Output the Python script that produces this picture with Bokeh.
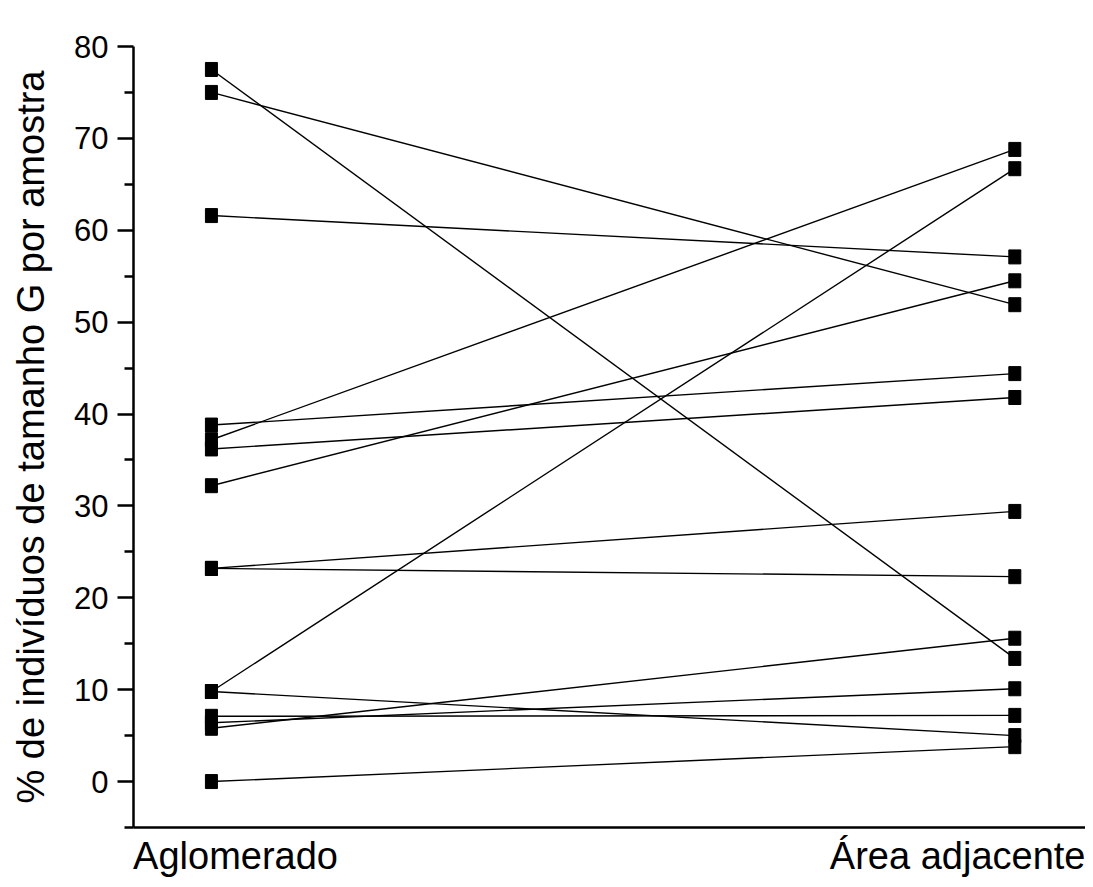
from bokeh.plotting import figure
from bokeh.models import ColumnDataSource, Range1d, FixedTicker
from bokeh.embed import file_html
from bokeh.resources import INLINE

# ---- data ----
categories = ["Aglomerado", "Área adjacente"]
aglomerado = [77.5, 75.0, 61.6, 38.8, 37.2, 36.2, 32.2, 23.2, 23.2, 9.8, 9.8, 7.1, 6.4, 5.8, 0.0]
area_adjacente = [13.4, 51.9, 57.1, 44.4, 68.8, 41.8, 54.5, 29.4, 22.3, 66.7, 5.0, 7.2, 10.1, 15.6, 3.8]
y_ticks = [0, 10, 20, 30, 40, 50, 60, 70, 80]
y_label = "% de indivíduos de tamanho G por amostra"

FONT = "Liberation Sans"

n = len(aglomerado)
seg_src = ColumnDataSource(dict(
    x0=[0] * n, y0=aglomerado,
    x1=[1] * n, y1=area_adjacente,
))
pts_src = ColumnDataSource(dict(
    x=[0] * n + [1] * n,
    y=aglomerado + area_adjacente,
))

p = figure(width=1085, height=879, output_backend="svg", toolbar_location=None,
           x_range=Range1d(-0.097, 1.088), y_range=Range1d(-5, 80),
           min_border_left=133, min_border_right=0, min_border_top=46, min_border_bottom=52)
p.outline_line_color = None
p.grid.visible = False
p.background_fill_color = "white"
p.border_fill_color = "white"

p.segment(x0="x0", y0="y0", x1="x1", y1="y1", source=seg_src,
          line_color="black", line_width=1.4)
p.rect(x="x", y="y", width=12, height=14, width_units="screen", height_units="screen",
       source=pts_src, fill_color="black", line_color="black")

# y axis
ya = p.yaxis[0]
ya.ticker = FixedTicker(ticks=y_ticks, minor_ticks=[t + 5 for t in y_ticks[:-1]] + [-5])
ya.axis_label = y_label
ya.axis_label_text_font = FONT
ya.axis_label_text_font_size = "38px"
ya.axis_label_text_font_style = "normal"
ya.axis_label_text_color = "black"
ya.axis_label_standoff = 19
ya.major_label_text_font = FONT
ya.major_label_text_font_size = "31px"
ya.major_label_text_color = "black"
ya.major_label_standoff = 9
ya.axis_line_width = 2.5
ya.major_tick_line_width = 2.5
ya.minor_tick_line_width = 2.5
ya.major_tick_out = 16
ya.major_tick_in = 0
ya.minor_tick_out = 9
ya.minor_tick_in = 0

# x axis: category labels
label_shift = [0.030, -0.061]
xticks = [i + s for i, s in enumerate(label_shift)]
xa = p.xaxis[0]
xa.ticker = FixedTicker(ticks=xticks, minor_ticks=[])
xa.major_label_overrides = {t: c for t, c in zip(xticks, categories)}
xa.major_label_text_font = FONT
xa.major_label_text_font_size = "38px"
xa.major_label_text_color = "black"
xa.major_label_standoff = 7
xa.axis_line_width = 2.5
xa.major_tick_out = 0
xa.major_tick_in = 0
xa.minor_tick_out = 0
xa.minor_tick_in = 0

open("out.html", "w").write(file_html(p, INLINE))
